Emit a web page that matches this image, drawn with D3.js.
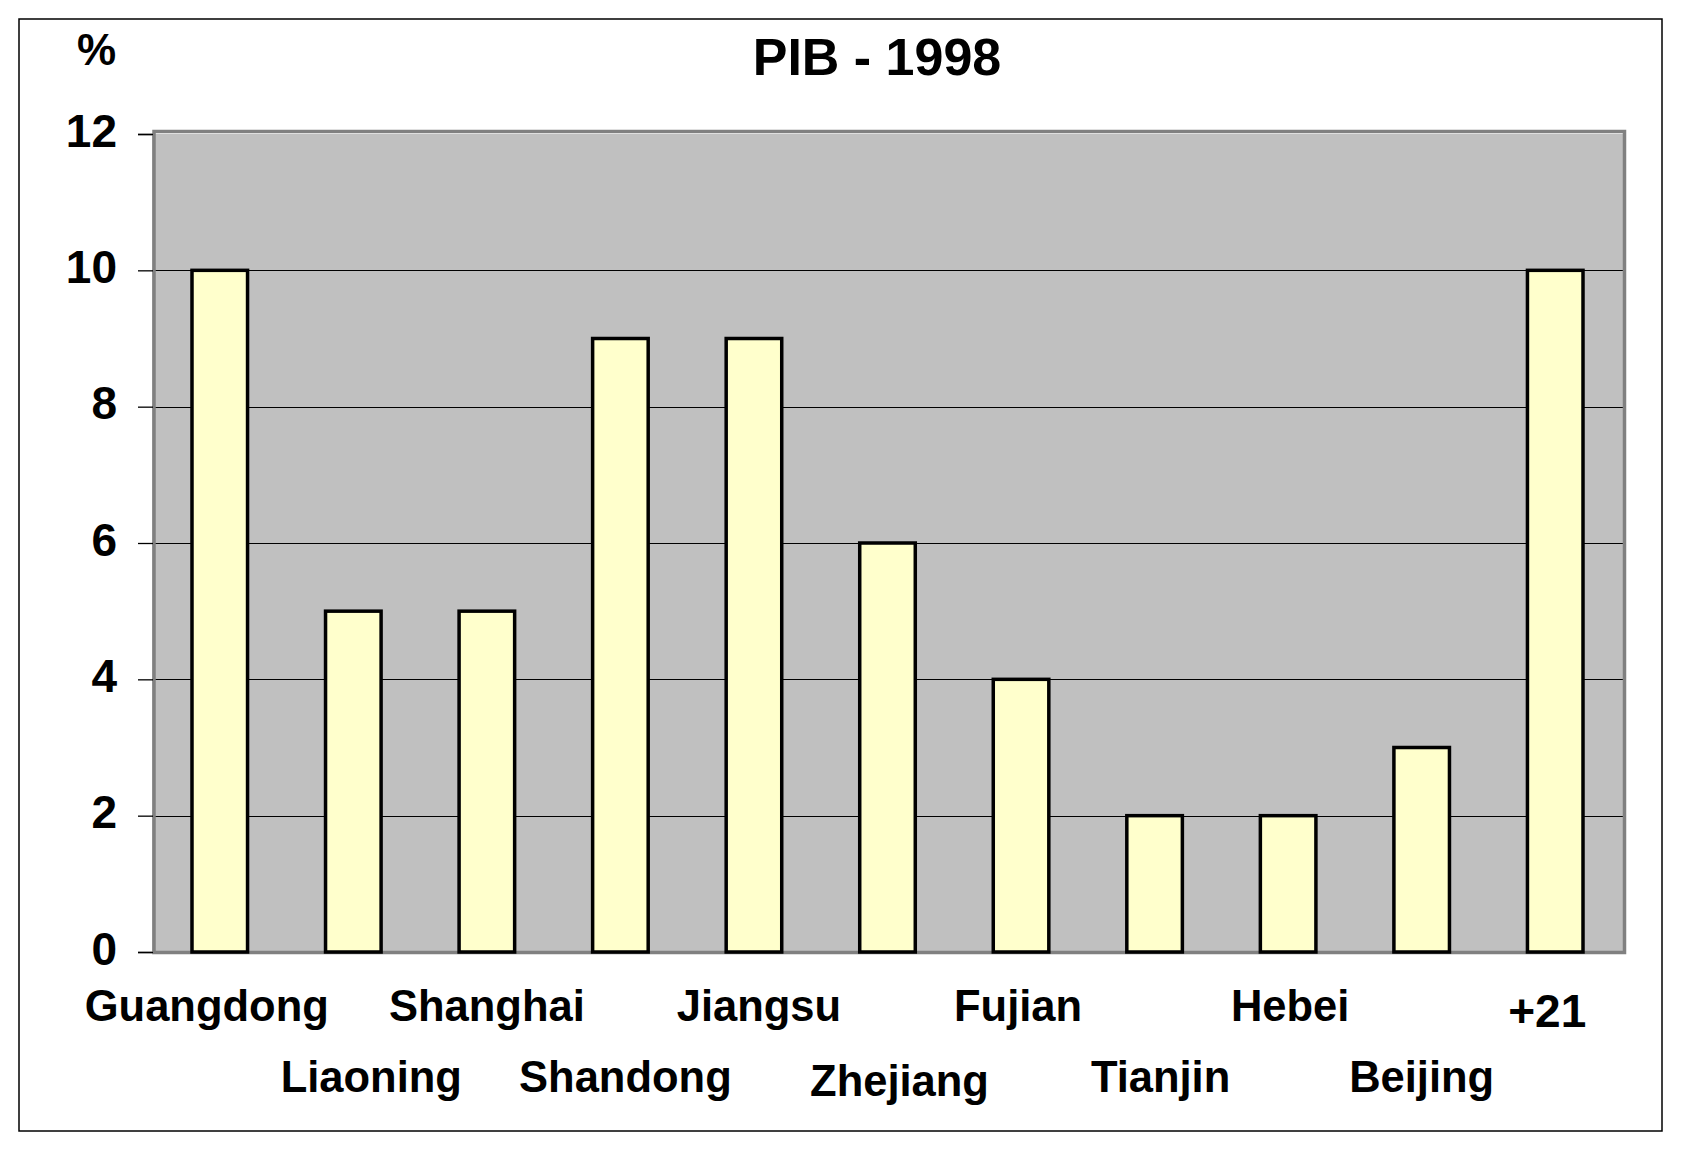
<!DOCTYPE html>
<html>
<head>
<meta charset="utf-8">
<script src="https://cdn.jsdelivr.net/npm/d3@7/dist/d3.min.js"></script>
<style>
  html, body { margin: 0; padding: 0; background: #fff; }
  text { font-family: "Liberation Sans", Arial, sans-serif; font-weight: bold; fill: #000; }
</style>
</head>
<body>
<svg id="chart" width="1685" height="1152"></svg>
<script>
// ---- data ----
const categories = ["Guangdong", "Liaoning", "Shanghai", "Shandong", "Jiangsu", "Zhejiang",
                    "Fujian", "Tianjin", "Hebei", "Beijing", "+21"];
const values = [10, 5, 5, 9, 9, 6, 4, 2, 2, 3, 10];
const yTicks = [0, 2, 4, 6, 8, 10, 12];
const titleText = "PIB - 1998";
const unitText = "%";

// ---- layout ----
const plot = { left: 153, right: 1622, top: 134, bottom: 952 };
// small horizontal / vertical nudges of category labels seen in the original
const labelDx = [-13, 18, 0, 5, 5, 12, -3, 6, 2, 0, -8];
const labelDy = [0, 0, 0, 0, 0, 4, 0, 0, 0, 0, 6];

const svg = d3.select("#chart");

// outer frame
svg.append("rect")
  .attr("x", 19).attr("y", 19).attr("width", 1643).attr("height", 1112)
  .attr("fill", "#fff").attr("stroke", "#000").attr("stroke-width", 1.5);

const x = d3.scaleBand()
  .domain(categories)
  .range([plot.left, plot.right])
  .paddingInner(0.584)
  .paddingOuter(0.292);

const y = d3.scaleLinear().domain([0, 12]).range([plot.bottom, plot.top]);

// plot background
svg.append("rect")
  .attr("x", plot.left + 1).attr("y", y(12)).attr("width", plot.right - plot.left + 1)
  .attr("height", y(0) - y(12))
  .attr("fill", "#C0C0C0");

// gridlines
svg.append("g").selectAll("line")
  .data(yTicks.filter(t => t > 0 && t < 12))
  .join("line")
  .attr("x1", plot.left + 1).attr("x2", plot.right + 1)
  .attr("y1", d => Math.round(y(d)) + 0.5).attr("y2", d => Math.round(y(d)) + 0.5)
  .attr("stroke", "#000").attr("stroke-width", 1);

// plot border (gray)
svg.append("rect")
  .attr("x", plot.left + 1).attr("y", y(12) - 2.5)
  .attr("width", plot.right - plot.left + 1.5).attr("height", y(0) - y(12) + 3)
  .attr("fill", "none").attr("stroke", "#808080").attr("stroke-width", 3.5);

// left axis with ticks
const yAxis = d3.axisLeft(y).tickValues(yTicks).tickSize(15).tickPadding(21).tickFormat(d3.format("d"));
const gy = svg.append("g").attr("transform", `translate(${plot.left},0)`).call(yAxis);
gy.select(".domain").attr("stroke", "#808080").attr("stroke-width", 2);
gy.selectAll(".tick line").attr("stroke", "#000").attr("stroke-width", 1.3);
gy.selectAll(".tick text")
  .attr("font-size", 46).attr("font-family", "Liberation Sans, Arial, sans-serif")
  .attr("font-weight", "bold").attr("fill", "#000")
  .attr("dy", null).attr("dominant-baseline", null)
  .attr("y", 12);

// bars
svg.append("g").selectAll("rect")
  .data(values)
  .join("rect")
  .attr("x", (d, i) => x(categories[i]))
  .attr("y", d => y(d))
  .attr("width", x.bandwidth())
  .attr("height", d => y(0) - y(d))
  .attr("fill", "#FFFFCC")
  .attr("stroke", "#000").attr("stroke-width", 3.5);

// category labels (staggered)
svg.append("g").selectAll("text")
  .data(categories)
  .join("text")
  .attr("x", (d, i) => x(d) + x.bandwidth() / 2 + labelDx[i])
  .attr("y", (d, i) => (i % 2 === 0 ? 1021 : 1092) + labelDy[i])
  .attr("text-anchor", "middle")
  .attr("font-size", (d, i) => i === categories.length - 1 ? 46 : 43.5)
  .text(d => d);

// title
svg.append("text")
  .attr("x", 877).attr("y", 75)
  .attr("text-anchor", "middle")
  .attr("font-size", 52)
  .text(titleText);

// unit label
svg.append("text")
  .attr("x", 116).attr("y", 65)
  .attr("text-anchor", "end")
  .attr("font-size", 44)
  .text(unitText);
</script>
</body>
</html>
